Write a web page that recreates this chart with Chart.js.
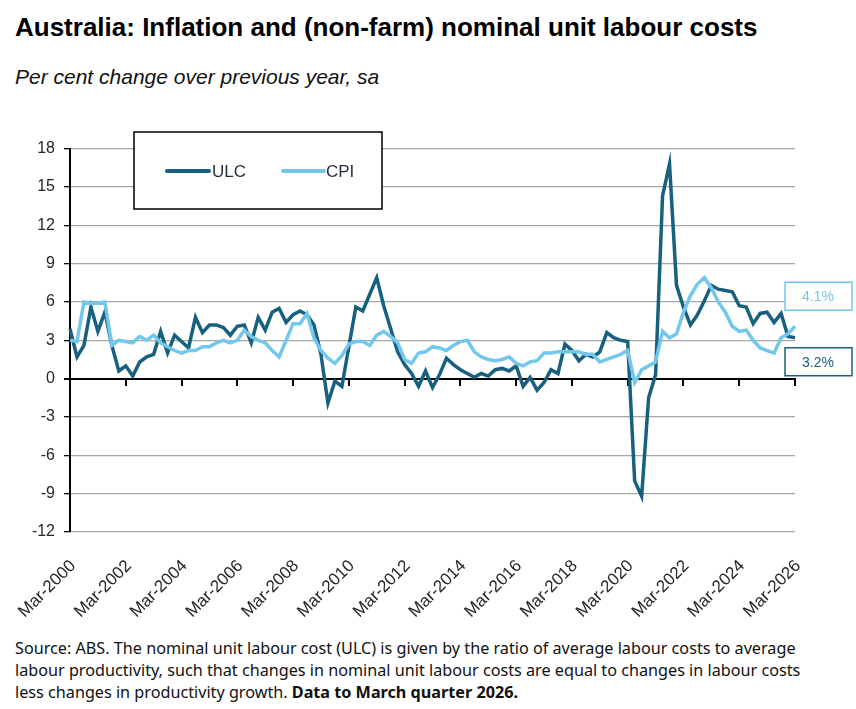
<!DOCTYPE html>
<html>
<head>
<meta charset="utf-8">
<script src="https://cdn.jsdelivr.net/npm/chart.js@4.4.1/dist/chart.umd.min.js"></script>
<title>Australia: Inflation and nominal unit labour costs</title>
<style>
  body { margin:0; background:#fff; width:856px; height:709px; position:relative; overflow:hidden; }
  #title { position:absolute; left:15px; top:12px; font-family:"Liberation Sans Narrow","Liberation Sans",sans-serif; font-weight:bold; font-size:26px; color:#000; white-space:nowrap; }
  #subtitle { position:absolute; left:15px; top:65px; font-family:"Liberation Sans Narrow","Liberation Sans",sans-serif; font-style:italic; font-size:21px; color:#111; white-space:nowrap; }
  #chart-box { position:absolute; left:0; top:130px; width:856px; height:490px; }
  #footer { position:absolute; left:15px; top:637px; font-family:"Noto Sans",sans-serif; font-size:16.2px; line-height:22px; color:#111; white-space:nowrap; }
</style>
</head>
<body>
<div id="title">Australia: Inflation and (non-farm) nominal unit labour costs</div>
<div id="subtitle">Per cent change over previous year, sa</div>
<div id="chart-box"><canvas id="myChart" width="856" height="490"></canvas></div>
<div id="footer">Source: ABS. The nominal unit labour cost (ULC) is given by the ratio of average labour costs to average<br>labour productivity, such that changes in nominal unit labour costs are equal to changes in labour costs<br>less changes in productivity growth. <b>Data to March quarter 2026.</b></div>

<script>
// quarterly series, Mar-2000 .. Mar-2026
var months = ['Mar', 'Jun', 'Sep', 'Dec'];
var firstYear = 2000, lastYear = 2026;

var ulc = [
  3.9, 1.7, 2.6, 5.6, 3.7, 5.2, 2.6, 0.6, 1.0, 0.2,
  1.3, 1.7, 1.9, 3.7, 2.0, 3.4, 2.9, 2.4, 4.8, 3.6,
  4.2, 4.2, 4.0, 3.4, 4.1, 4.2, 2.8, 4.8, 3.8, 5.2,
  5.5, 4.4, 5.0, 5.3, 5.0, 4.2, 1.9, -1.9, -0.2, -0.6,
  2.5, 5.6, 5.3, 6.6, 7.9, 5.7, 3.9, 2.1, 1.1, 0.4,
  -0.6, 0.6, -0.7, 0.3, 1.6, 1.1, 0.7, 0.4, 0.1, 0.4,
  0.2, 0.7, 0.8, 0.6, 1.0, -0.6, 0.1, -0.9, -0.3, 0.7,
  0.4, 2.7, 2.2, 1.4, 1.9, 1.7, 2.1, 3.6, 3.2, 3.0,
  2.9, -8.0, -9.2, -1.5, 0.3, 14.3, 16.8, 7.3, 5.6, 4.2,
  5.0, 6.1, 7.3, 7.0, 6.9, 6.8, 5.7, 5.6, 4.3, 5.1,
  5.2, 4.4, 5.1, 3.3, 3.2
];
var cpi = [
  3.0, 2.9, 6.0, 5.9, 5.9, 6.0, 2.6, 3.0, 2.9, 2.8,
  3.3, 3.0, 3.4, 2.8, 2.5, 2.2, 2.0, 2.2, 2.2, 2.5,
  2.5, 2.8, 3.0, 2.8, 3.0, 3.8, 3.3, 3.0, 2.8, 2.2,
  1.7, 3.0, 4.3, 4.3, 5.1, 3.2, 2.2, 1.6, 1.2, 1.8,
  2.7, 2.9, 2.9, 2.6, 3.4, 3.7, 3.3, 2.8, 1.5, 1.2,
  2.0, 2.1, 2.5, 2.4, 2.2, 2.6, 2.9, 3.0, 2.1, 1.7,
  1.5, 1.4, 1.5, 1.7, 1.2, 1.0, 1.3, 1.4, 2.0, 2.0,
  2.1, 2.1, 2.1, 2.1, 1.9, 1.9, 1.3, 1.5, 1.7, 1.9,
  2.2, -0.3, 0.7, 1.0, 1.3, 3.7, 3.2, 3.5, 5.2, 6.5,
  7.4, 7.9, 7.1, 6.0, 5.2, 4.1, 3.7, 3.8, 3.0, 2.4,
  2.2, 2.0, 3.2, 3.5, 4.1
];

// y axis range and step
var yMin = -12, yMax = 18, yStep = 3;

var dates = [];
for (var yr = firstYear; yr <= lastYear; yr++) {
  for (var m = 0; m < 4; m++) {
    if (yr === lastYear && m > 0) break;
    dates.push(months[m] + '-' + yr);
  }
}

var ULC_COL = '#17607f';
var CPI_COL = '#72c7ec';

// legend box + end-value labels
var overlay = {
  id: 'overlay',
  afterDraw: function (chart) {
    var c = chart.ctx;
    c.save();
    // legend
    c.fillStyle = '#fff';
    c.fillRect(134, 2, 248, 77);
    c.strokeStyle = '#000';
    c.lineWidth = 1.5;
    c.strokeRect(134, 2, 248, 77);
    c.lineWidth = 4;
    c.lineCap = 'round';
    c.strokeStyle = ULC_COL;
    c.beginPath(); c.moveTo(167, 41); c.lineTo(209, 41); c.stroke();
    c.strokeStyle = CPI_COL;
    c.beginPath(); c.moveTo(283, 41); c.lineTo(324, 41); c.stroke();
    c.font = '17px "Liberation Sans"';
    c.fillStyle = '#1f2d3d';
    c.textBaseline = 'middle';
    c.textAlign = 'left';
    c.fillText('ULC', 212, 42);
    c.fillText('CPI', 326, 42);

    // last values
    var ys = chart.scales.y;
    var boxes = [
      { v: cpi[cpi.length - 1], col: CPI_COL, dy: -30 },
      { v: ulc[ulc.length - 1], col: ULC_COL, dy: 24 }
    ];
    c.font = '14px "Liberation Sans"';
    c.textAlign = 'center';
    c.lineWidth = 1.5;
    boxes.forEach(function (b) {
      var cy = ys.getPixelForValue(b.v) + b.dy;
      c.fillStyle = '#fff';
      c.fillRect(785, cy - 14, 67, 28);
      c.strokeStyle = b.col;
      c.strokeRect(785, cy - 14, 67, 28);
      c.fillStyle = b.col;
      c.fillText(b.v.toFixed(1) + '%', 818, cy + 1);
    });
    c.restore();
  }
};

var ctx = document.getElementById('myChart').getContext('2d');
var myChart = new Chart(ctx, {
  type: 'line',
  data: {
    labels: dates,
    datasets: [
      { label: 'ULC', data: ulc, borderColor: ULC_COL, backgroundColor: ULC_COL,
        borderWidth: 3.5, pointRadius: 0, tension: 0, order: 1 },
      { label: 'CPI', data: cpi, borderColor: CPI_COL, backgroundColor: CPI_COL,
        borderWidth: 3.5, pointRadius: 0, tension: 0, order: 0 }
    ]
  },
  options: {
    responsive: false,
    devicePixelRatio: 1,
    animation: false,
    layout: { padding: { top: 15, right: 61, left: 0, bottom: 0 } },
    plugins: { legend: { display: false }, tooltip: { enabled: false } },
    scales: {
      x: {
        grid: { display: false },
        border: { display: false },
        ticks: {
          autoSkip: false, minRotation: 45, maxRotation: 45,
          font: { family: 'Liberation Sans', size: 17 }, color: '#262626',
          padding: 16, labelOffset: 3,
          callback: function (v, i) { return i % 8 === 0 ? dates[i] : ''; }
        },
        afterFit: function (s) { s.height = 88; }
      },
      // category axis crossing at zero, only for the axis line and tick marks
      x0: {
        type: 'category',
        labels: dates,
        position: { y: 0 },
        ticks: { display: false, autoSkip: false },
        grid: {
          drawOnChartArea: false, drawTicks: true, tickLength: 6, lineWidth: 2,
          color: function (c) { return c.tick && c.tick.value % 8 === 0 ? '#000' : 'rgba(0,0,0,0)'; }
        },
        border: { display: true, color: '#000', width: 2 }
      },
      y: {
        min: yMin, max: yMax,
        ticks: { stepSize: yStep, font: { family: 'Liberation Sans', size: 16 }, color: '#262626', padding: 9 },
        grid: {
          color: function (c) { return c.tick.value === 0 ? '#000' : '#a6a6a6'; },
          lineWidth: function (c) { return c.tick.value === 0 ? 2 : 1.3; },
          tickColor: '#000', tickLength: 6
        },
        border: { color: '#000', width: 2 },
        afterFit: function (s) { s.width = 70; }
      }
    }
  },
  plugins: [overlay]
});
</script>
</body>
</html>
